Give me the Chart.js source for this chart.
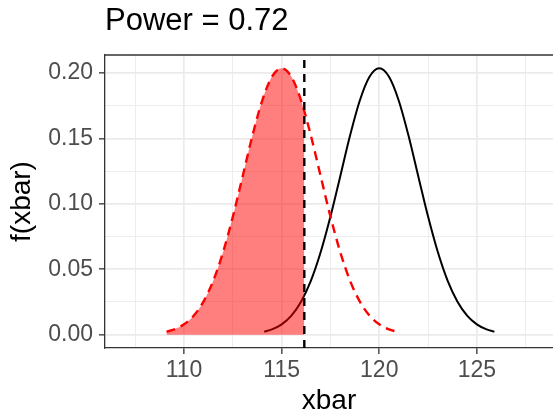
<!DOCTYPE html>
<html>
<head>
<meta charset="utf-8">
<script src="https://cdn.jsdelivr.net/npm/chart.js@4.4.0/dist/chart.umd.min.js"></script>
<style>
  html, body { margin: 0; padding: 0; background: #fff; }
  #wrap { width: 553px; height: 418px; }
</style>
</head>
<body>
<div id="wrap"><canvas id="power-chart"></canvas></div>
<script>
// Values
const titleText = 'Power = 0.72';
const critical = 116.16;

// true-mean curve (red, dashed)
const h1X = [109.1, 109.5, 110, 110.5, 111, 111.5, 112, 112.5, 113, 113.5, 114, 114.5, 115,
             115.5, 116, 116.5, 117, 117.5, 118, 118.5, 119, 119.5, 120, 120.5, 120.9];
const h1Y = [0.0023, 0.0040, 0.0079, 0.0146, 0.0254, 0.0413, 0.0631, 0.0902, 0.1209, 0.1519, 0.1787, 0.1970, 0.2035,
             0.1970, 0.1787, 0.1519, 0.1209, 0.0902, 0.0631, 0.0413, 0.0254, 0.0146, 0.0079, 0.0040, 0.0023];

// null curve (black, solid)
const h0X = [114.1, 114.5, 115, 115.5, 116, 116.5, 117, 117.5, 118, 118.5, 119, 119.5, 120,
             120.5, 121, 121.5, 122, 122.5, 123, 123.5, 124, 124.5, 125, 125.5, 125.9];
const h0Y = [0.0023, 0.0040, 0.0079, 0.0146, 0.0254, 0.0413, 0.0631, 0.0902, 0.1209, 0.1519, 0.1787, 0.1970, 0.2035,
             0.1970, 0.1787, 0.1519, 0.1209, 0.0902, 0.0631, 0.0413, 0.0254, 0.0146, 0.0079, 0.0040, 0.0023];

// shaded power region under the red curve, left of the critical value
const shadeX = [109.1, 109.5, 110, 110.5, 111, 111.5, 112, 112.5, 113, 113.5, 114, 114.5, 115, 115.5, 116, 116.16];
const shadeY = [0.0023, 0.0040, 0.0079, 0.0146, 0.0254, 0.0413, 0.0631, 0.0902, 0.1209, 0.1519, 0.1787, 0.1970, 0.2035, 0.1970, 0.1787, 0.1708];

const xMajor = [110, 115, 120, 125];
const xMinor = [107.5, 112.5, 117.5, 122.5, 127.5];
const yMajor = [0, 0.05, 0.10, 0.15, 0.20];
const yMinor = [0.025, 0.075, 0.125, 0.175];
const xRange = [105.95, 128.9];
const yRange = [-0.0102, 0.2137];

const pts = (xs, ys) => xs.map((x, i) => ({ x, y: ys[i] }));
const isMajor = (list, v) => list.some(m => Math.abs(m - v) < 1e-9);

const FONT = "'Liberation Sans', Arial, Helvetica, sans-serif";
const GRID = '#EBEBEB';
const FRAME = '#333333';

// ggplot-style panel border on the top edge (left/bottom come from the axes)
const framePlugin = {
    id: 'frame',
    afterDraw(chart) {
        const { ctx, chartArea: a } = chart;
        ctx.save();
        ctx.strokeStyle = FRAME;
        ctx.lineWidth = 1.3;
        ctx.beginPath();
        ctx.moveTo(a.left, a.top);
        ctx.lineTo(a.right + 2, a.top);
        ctx.stroke();
        ctx.restore();
    }
};

function gridFor(majors) {
    return {
        color: GRID,
        lineWidth: (c) => (c.tick && isMajor(majors, c.tick.value) ? 1.7 : 0.9),
        drawTicks: true,
        tickLength: 6,
        tickColor: (c) => (c.tick && isMajor(majors, c.tick.value) ? FRAME : 'rgba(0,0,0,0)'),
        tickWidth: 1.3,
    };
}

new Chart(document.getElementById('power-chart'), {
    type: 'line',
    data: {
        datasets: [
            {
                label: 'critical',
                data: [{ x: critical, y: yRange[0] }, { x: critical, y: yRange[1] }],
                borderColor: '#000',
                borderWidth: 2.4,
                borderDash: [8, 6],
                pointRadius: 0,
                fill: false,
                order: 0,
            },
            {
                label: 'h1',
                data: pts(h1X, h1Y),
                borderColor: '#FF0000',
                borderWidth: 2.4,
                borderDash: [9, 6],
                pointRadius: 0,
                cubicInterpolationMode: 'monotone',
                fill: false,
                order: 1,
            },
            {
                label: 'shade',
                data: pts(shadeX, shadeY),
                borderWidth: 0,
                borderColor: 'rgba(0,0,0,0)',
                backgroundColor: 'rgba(255,0,0,0.5)',
                pointRadius: 0,
                cubicInterpolationMode: 'monotone',
                fill: 'origin',
                order: 2,
            },
            {
                label: 'h0',
                data: pts(h0X, h0Y),
                borderColor: '#000',
                borderWidth: 2,
                pointRadius: 0,
                cubicInterpolationMode: 'monotone',
                fill: false,
                order: 3,
            },
        ],
    },
    options: {
        responsive: true,
        maintainAspectRatio: false,
        animation: false,
        events: [],
        layout: { padding: 0 },
        plugins: {
            legend: { display: false },
            tooltip: { enabled: false },
            title: {
                display: true,
                text: titleText,
                align: 'start',
                fullSize: false,
                color: '#000',
                font: { family: FONT, size: 31, weight: 'normal' },
                padding: { top: 3, bottom: 14.8 },
            },
        },
        scales: {
            x: {
                type: 'linear',
                min: xRange[0],
                max: xRange[1],
                afterBuildTicks: (s) => { s.ticks = [...xMajor, ...xMinor].sort((a, b) => a - b).map(v => ({ value: v })); },
                afterFit: (s) => { s.height = 70; },
                grid: gridFor(xMajor),
                border: { display: true, color: FRAME, width: 1.3 },
                ticks: {
                    autoSkip: false,
                    maxRotation: 0,
                    padding: 3,
                    color: '#4D4D4D',
                    font: { family: FONT, size: 23 },
                    callback: (v) => (isMajor(xMajor, v) ? String(v) : ''),
                },
                title: {
                    display: true,
                    text: 'xbar',
                    color: '#000',
                    font: { family: FONT, size: 28 },
                    padding: { top: 0, bottom: 0 },
                },
            },
            y: {
                type: 'linear',
                min: yRange[0],
                max: yRange[1],
                afterBuildTicks: (s) => { s.ticks = [...yMajor, ...yMinor].sort((a, b) => a - b).map(v => ({ value: v })); },
                afterFit: (s) => { s.width = 105; },
                grid: gridFor(yMajor),
                border: { display: true, color: FRAME, width: 1.3 },
                ticks: {
                    autoSkip: false,
                    padding: 6,
                    color: '#4D4D4D',
                    font: { family: FONT, size: 23 },
                    callback: (v) => (isMajor(yMajor, v) ? v.toFixed(2) : ''),
                },
                title: {
                    display: true,
                    text: 'f(xbar)',
                    color: '#000',
                    font: { family: FONT, size: 28 },
                    padding: { top: 5, bottom: 0 },
                },
            },
        },
    },
    plugins: [framePlugin],
});
</script>
</body>
</html>
